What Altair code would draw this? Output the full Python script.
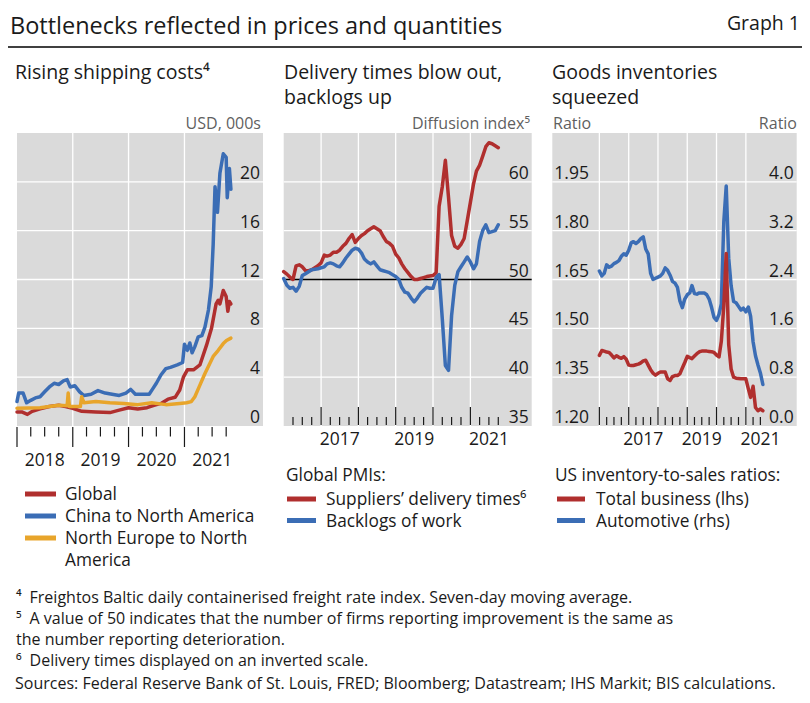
import altair as alt
import pandas as pd

FONT = "Open Sans"
RED = "#b02f2e"
BLUE = "#3b6db5"
ORANGE = "#e8a52b"
BG = "#dadada"
INK = "#1a1a1a"
MUTED = "#5f5f5f"
OFF = 8  # page margin: screen px -> chart px

# ---------------- Panel 1: Rising shipping costs (USD, 000s) ----------------
china_dates = ["2018-01-01", "2018-01-12", "2018-02-10", "2018-03-05", "2018-04-01", "2018-05-01",
               "2018-06-01", "2018-07-01", "2018-08-01", "2018-09-01", "2018-10-01", "2018-11-01",
               "2018-11-25", "2018-12-15", "2019-01-15", "2019-02-15", "2019-03-15", "2019-05-01",
               "2019-06-15", "2019-08-01", "2019-09-15", "2019-11-01", "2019-12-15", "2020-01-15",
               "2020-02-15", "2020-04-01", "2020-05-15", "2020-06-05", "2020-07-01", "2020-08-01",
               "2020-09-01", "2020-10-01", "2020-11-15", "2020-12-20", "2021-01-01", "2021-01-20",
               "2021-02-05", "2021-02-20", "2021-03-10", "2021-04-01", "2021-04-25", "2021-05-15",
               "2021-06-07", "2021-06-25", "2021-07-08", "2021-07-20", "2021-08-05", "2021-08-21",
               "2021-09-12", "2021-10-01", "2021-10-08", "2021-10-22", "2021-11-01"]
china_vals = [2.0, 2.7, 2.7, 1.9, 2.1, 2.3, 2.4, 2.8, 3.2, 3.5, 3.4, 3.7,
              3.8, 3.2, 3.3, 2.8, 2.5, 2.6, 2.9, 2.7, 2.6, 2.5, 2.7, 3.0,
              2.6, 2.6, 2.6, 3.0, 3.5, 4.2, 4.7, 4.8, 5.0, 5.2, 6.7, 6.2,
              6.8, 6.0, 6.5, 7.3, 7.4, 8.1, 9.5, 11.4, 14.9, 19.6, 17.5, 20.7,
              22.3, 22.0, 18.7, 21.1, 19.4]

global_dates = ["2018-01-01", "2018-02-01", "2018-03-10", "2018-04-10", "2018-06-01", "2018-08-01",
                "2018-10-01", "2018-11-15", "2019-01-01", "2019-03-01", "2019-06-01", "2019-09-01",
                "2019-11-01", "2020-01-01", "2020-03-01", "2020-05-01", "2020-06-15", "2020-08-01",
                "2020-09-15", "2020-11-01", "2020-12-01", "2020-12-25", "2021-01-20", "2021-03-01",
                "2021-04-12", "2021-05-25", "2021-06-27", "2021-07-27", "2021-08-10", "2021-08-21",
                "2021-09-12", "2021-10-01", "2021-10-12", "2021-10-22", "2021-11-01"]
global_vals = [1.15, 1.15, 0.95, 1.2, 1.4, 1.6, 1.7, 1.6, 1.45, 1.2, 1.15, 1.1,
               1.3, 1.5, 1.4, 1.5, 1.7, 1.85, 2.2, 2.35, 2.95, 4.0, 4.6, 4.6,
               5.0, 6.6, 8.0, 10.0, 10.3, 10.0, 11.1, 10.6, 9.4, 10.2, 10.0]

neur_dates = ["2018-01-01", "2018-06-01", "2018-10-01", "2018-11-25", "2018-12-02", "2018-12-10",
              "2019-02-20", "2019-02-28", "2019-03-15", "2019-06-01", "2019-09-01", "2019-12-01",
              "2020-03-01", "2020-06-01", "2020-09-01", "2020-12-01", "2021-01-15", "2021-02-15",
              "2021-03-10", "2021-04-12", "2021-05-15", "2021-06-15", "2021-07-08", "2021-08-10",
              "2021-09-12", "2021-10-03", "2021-11-01"]
neur_vals = [1.45, 1.5, 1.7, 1.65, 2.7, 1.6, 1.6, 2.4, 1.9, 2.0, 1.9, 1.85,
             1.75, 1.9, 1.75, 1.85, 1.9, 2.0, 2.4, 3.35, 4.3, 5.1, 5.7, 6.2,
             6.75, 7.0, 7.2]

# ---------------- Panel 2: Global PMIs (monthly, Jan 2016 - Oct 2021) ----------------
pmi_start, pmi_n = "2016-01-01", 70
pmi_delivery = [50.8, 50.55, 50.25, 50.0, 51.4, 51.5, 51.3, 50.9, 50.9, 51.0, 51.2, 51.4,
                51.7, 52.5, 52.4, 52.5, 52.8, 52.8, 53.0, 53.4, 53.7, 54.2, 54.6, 53.8,
                54.2, 54.5, 54.7, 55.0, 55.2, 55.4, 55.2, 55.0, 54.4, 53.9, 53.7, 53.4,
                52.6, 52.2, 51.6, 51.1, 50.7, 50.3, 50.0, 50.0, 50.1, 50.2, 50.3, 50.35,
                50.4, 50.7, 57.5, 59.5, 62.2, 58.4, 54.5, 53.4, 53.2, 53.6, 54.2, 56.0,
                57.9, 59.8, 61.1, 61.7, 62.6, 63.6, 64.0, 63.9, 63.7, 63.5]
pmi_backlog = [50.1, 49.4, 49.1, 49.2, 48.8, 49.3, 50.4, 50.6, 50.8, 51.0, 51.05, 51.1,
               51.2, 51.3, 51.6, 51.7, 51.6, 51.4, 51.3, 51.7, 52.2, 52.6, 53.0, 53.2,
               53.1, 52.7, 52.1, 51.8, 51.6, 51.8, 51.4, 51.0, 50.9, 50.8, 50.7, 50.5,
               50.3, 50.0, 49.2, 48.7, 48.6, 48.1, 47.7, 48.1, 48.6, 48.9, 49.2, 49.1,
               49.1, 50.2, 50.5, 46.0, 41.2, 40.7, 46.3, 49.4, 50.8, 51.3, 51.8, 52.3,
               51.8, 51.1, 51.6, 53.9, 55.0, 55.6, 54.8, 54.9, 55.0, 55.6]

# ---------------- Panel 3: US inventory-to-sales ratios (monthly, Jan 2016 - Aug 2021) -------
inv_start, inv_n = "2016-01-01", 68
inv_total = [1.417, 1.432, 1.430, 1.427, 1.426, 1.418, 1.409, 1.416, 1.411, 1.408, 1.413, 1.405,
             1.387, 1.386, 1.386, 1.388, 1.390, 1.394, 1.400, 1.402, 1.387, 1.373, 1.362, 1.356,
             1.362, 1.366, 1.366, 1.366, 1.345, 1.340, 1.352, 1.355, 1.355, 1.360, 1.378, 1.395,
             1.414, 1.410, 1.407, 1.415, 1.422, 1.428, 1.430, 1.430, 1.430, 1.429, 1.428, 1.426,
             1.418, 1.412, 1.460, 1.570, 1.730, 1.450, 1.375, 1.350, 1.347, 1.346, 1.345, 1.345,
             1.345, 1.314, 1.288, 1.322, 1.257, 1.247, 1.252, 1.247]
inv_auto = [2.54, 2.46, 2.50, 2.64, 2.60, 2.62, 2.66, 2.68, 2.71, 2.78, 2.82, 2.80,
            2.88, 3.00, 3.02, 2.99, 3.02, 3.07, 3.10, 2.90, 2.82, 2.50, 2.40, 2.42,
            2.44, 2.46, 2.50, 2.59, 2.55, 2.47, 2.37, 2.34, 2.27, 2.05, 1.94, 2.08,
            2.15, 2.18, 2.30, 2.17, 2.16, 2.18, 2.18, 2.18, 2.15, 2.08, 1.94, 1.78,
            1.73, 1.83, 2.00, 3.35, 3.93, 2.75, 2.30, 2.04, 2.02, 1.96, 1.90, 1.93,
            1.87, 1.95, 1.80, 1.38, 1.15, 1.00, 0.87, 0.68]

# ---------------- axis values / tick labels ----------------
p1_yvals = [0, 4, 8, 12, 16, 20]
p1_ylabels = ["0", "4", "8", "12", "16", "20"]
p1_years = ["2018", "2019", "2020", "2021"]
p2_yvals = [35, 40, 45, 50, 55, 60]
p2_ylabels = ["35", "40", "45", "50", "55", "60"]
p2_years = ["2017", "2019", "2021"]
p3_lvals = [1.20, 1.35, 1.50, 1.65, 1.80, 1.95]
p3_llabels = ["1.20", "1.35", "1.50", "1.65", "1.80", "1.95"]
p3_rvals = [0.0, 0.8, 1.6, 2.4, 3.2, 4.0]
p3_rlabels = ["0.0", "0.8", "1.6", "2.4", "3.2", "4.0"]
p3_years = ["2017", "2019", "2021"]

# ---------------- texts ----------------
title_text = "Bottlenecks reflected in prices and quantities"
graph_no = "Graph 1"
sub1 = ["Rising shipping costs\u2074"]
sub2 = ["Delivery times blow out,", "backlogs up"]
sub3 = ["Goods inventories", "squeezed"]
leg1 = ["Global", "China to North America", "North Europe to North", "America"]
leg2_head = "Global PMIs:"
leg2 = ["Suppliers\u2019 delivery times\u2076", "Backlogs of work"]
leg3_head = "US inventory-to-sales ratios:"
leg3 = ["Total business (lhs)", "Automotive (rhs)"]
notes = ["\u2074\u2002Freightos Baltic daily containerised freight rate index. Seven-day moving average.",
         "\u2075\u2002A value of 50 indicates that the number of firms reporting improvement is the same as",
         "the number reporting deterioration.",
         "\u2076\u2002Delivery times displayed on an inverted scale."]
sources = "Sources: Federal Reserve Bank of St. Louis, FRED; Bloomberg; Datastream; IHS Markit; BIS calculations."

# ---------------- layout (screen pixels) ----------------
P1 = dict(dom=("2018-01-01", "2022-05-30"), rng=(17, 263))
P2 = dict(dom=("2016-01-01", "2022-08-24"), rng=(283.7, 531.7))
P3 = dict(dom=("2014-05-24", "2022-09-27"), rng=(552.3, 796.7))
Y_TOP, Y_BOT = 133, 426
AX = 17.5  # axis label size
LG = 17.3  # legend size


def px(v):
    return v - OFF


def dt(s):
    y, m, d = (int(p) for p in s.split("-"))
    return alt.DateTime(year=y, month=m, date=d)


def xenc(p, field="date"):
    return alt.X(f"{field}:T", axis=None,
                 scale=alt.Scale(domain=[dt(p["dom"][0]), dt(p["dom"][1])],
                                 range=[px(p["rng"][0]), px(p["rng"][1])], nice=False))


def yenc(lo, hi, field="v"):
    return alt.Y(f"{field}:Q", axis=None,
                 scale=alt.Scale(domain=[lo, hi], range=[px(Y_BOT), px(Y_TOP)], nice=False, zero=False))


def quarters(first, last):
    out = []
    for y in range(1990, 2030):
        for m in (1, 4, 7, 10):
            s = f"{y}-{m:02d}-01"
            if first <= s <= last:
                out.append(s)
    return out


def panel(p, lo, hi, hgrid, vgrid_years):
    layers = []
    layers.append(alt.Chart(pd.DataFrame({"date": [p["dom"][0]], "d2": [p["dom"][1]],
                                          "v": [lo], "v2": [hi]}))
                  .mark_rect(color=BG)
                  .encode(x=xenc(p), x2="d2:T", y=yenc(lo, hi), y2="v2:Q"))
    layers.append(alt.Chart(pd.DataFrame({"date": [p["dom"][0]] * len(hgrid), "d2": [p["dom"][1]] * len(hgrid),
                                          "v": hgrid}))
                  .mark_rule(color="white", strokeWidth=1.3)
                  .encode(x=xenc(p), x2="d2:T", y=yenc(lo, hi)))
    layers.append(alt.Chart(pd.DataFrame({"date": [f"{y}-01-01" for y in vgrid_years],
                                          "v": [lo] * len(vgrid_years), "v2": [hi] * len(vgrid_years)}))
                  .mark_rule(color="white", strokeWidth=1.3)
                  .encode(x=xenc(p), y=yenc(lo, hi), y2="v2:Q"))
    return layers


def line(p, lo, hi, dates, vals, color):
    return (alt.Chart(pd.DataFrame({"date": dates, "v": vals}))
            .mark_line(color=color, strokeWidth=3.5, strokeJoin="round", strokeCap="round")
            .encode(x=xenc(p), y=yenc(lo, hi)))


def ylabels(p, lo, hi, vals, labels, side):
    edge = p["dom"][1] if side == "right" else p["dom"][0]
    return (alt.Chart(pd.DataFrame({"date": [edge] * len(vals), "v": vals, "t": labels}))
            .mark_text(align=side, baseline="alphabetic", dx=-3 if side == "right" else 2, dy=-3,
                       font=FONT, fontSize=AX, color=INK)
            .encode(x=xenc(p), y=yenc(lo, hi), text="t:N"))


def ticks(p, first, last, up):
    qs = quarters(first, last)
    df = pd.DataFrame({"date": qs, "major": [q.endswith("-01-01") for q in qs]})
    out = []
    for major in (False, True):
        sub = df[df["major"] == major]
        if up:
            y1, y2 = (425, 407) if major else (425, 417)
        else:
            y1, y2 = (427, 447) if major else (427, 436.5)
        out.append(alt.Chart(sub).mark_rule(color=INK, strokeWidth=1.2)
                   .encode(x=xenc(p), y=alt.value(px(y1)), y2=alt.value(px(y2))))
    return out


def year_labels(p, years, base):
    return (alt.Chart(pd.DataFrame({"date": [f"{y}-07-02" for y in years], "t": years}))
            .mark_text(align="center", baseline="alphabetic", font=FONT, fontSize=AX, color=INK)
            .encode(x=xenc(p), y=alt.value(px(base)), text="t:N"))


def text(t, x, y, size, align="left", color=INK):
    return (alt.Chart(pd.DataFrame({"t": [t]}))
            .mark_text(align=align, baseline="alphabetic", font=FONT, fontSize=size, color=color)
            .encode(x=alt.value(px(x)), y=alt.value(px(y)), text="t:N"))


def block(lines, x, first_base, size, lh, color=INK):
    # multi-line text; 'top' baseline puts the first line's baseline at y + round(0.79*size)
    top = first_base - round(0.79 * size)
    return (alt.Chart(pd.DataFrame({"a": [0]}))
            .mark_text(text=lines, align="left", baseline="top", lineHeight=lh,
                       font=FONT, fontSize=size, color=color)
            .encode(x=alt.value(px(x)), y=alt.value(px(top))))


def swatch(x1, x2, y, color):
    return (alt.Chart(pd.DataFrame({"a": [0]}))
            .mark_rule(color=color, strokeWidth=5)
            .encode(x=alt.value(px(x1)), x2=alt.value(px(x2)), y=alt.value(px(y))))


layers = []

# Panel 1
layers += panel(P1, 0, 24, [4, 8, 12, 16, 20], [2019, 2020, 2021])
layers.append(line(P1, 0, 24, global_dates, global_vals, RED))
layers.append(line(P1, 0, 24, china_dates, china_vals, BLUE))
layers.append(line(P1, 0, 24, neur_dates, neur_vals, ORANGE))
layers.append(ylabels(P1, 0, 24, p1_yvals, p1_ylabels, "right"))
layers += ticks(P1, "2018-01-01", "2021-10-01", up=False)
layers.append(year_labels(P1, p1_years, 466))

# Panel 2
pmi_dates = [d.strftime("%Y-%m-%d") for d in pd.date_range(pmi_start, periods=pmi_n, freq="MS")]
layers += panel(P2, 35, 65, [40, 45, 55, 60], [2017, 2018, 2019, 2020, 2021])
layers.append(alt.Chart(pd.DataFrame({"date": [P2["dom"][0]], "d2": [P2["dom"][1]], "v": [50]}))
              .mark_rule(color="black", strokeWidth=1.3)
              .encode(x=xenc(P2), x2="d2:T", y=yenc(35, 65)))
layers.append(line(P2, 35, 65, pmi_dates, pmi_delivery, RED))
layers.append(line(P2, 35, 65, pmi_dates, pmi_backlog, BLUE))
layers.append(ylabels(P2, 35, 65, p2_yvals, p2_ylabels, "right"))
layers += ticks(P2, "2016-04-01", "2021-10-01", up=True)
layers.append(year_labels(P2, p2_years, 445))

# Panel 3
inv_dates = [d.strftime("%Y-%m-%d") for d in pd.date_range(inv_start, periods=inv_n, freq="MS")]
layers += panel(P3, 1.20, 2.10, [1.35, 1.50, 1.65, 1.80, 1.95], [2016, 2017, 2018, 2019, 2020, 2021])
layers.append(line(P3, 0.0, 4.8, inv_dates, inv_auto, BLUE))
layers.append(line(P3, 1.20, 2.10, inv_dates, inv_total, RED))
layers.append(ylabels(P3, 1.20, 2.10, p3_lvals, p3_llabels, "left"))
layers.append(ylabels(P3, 0.0, 4.8, p3_rvals, p3_rlabels, "right"))
layers += ticks(P3, "2016-01-01", "2021-07-01", up=True)
layers.append(year_labels(P3, p3_years, 445))

# Titles
layers.append(text(title_text, 10, 33.5, 23.5))
layers.append(text(graph_no, 800, 29.5, 19.5, align="right"))
layers.append(alt.Chart(pd.DataFrame({"a": [0]})).mark_rule(color="black", strokeWidth=1.5)
              .encode(x=alt.value(0), x2=alt.value(px(810)), y=alt.value(px(47))))
layers.append(block(sub1, 15, 79, 19.5, 25))
layers.append(block(sub2, 284, 79, 19.5, 25))
layers.append(block(sub3, 552, 79, 19.5, 25))
layers.append(text("USD, 000s", 261, 128.5, 16, align="right", color=MUTED))
layers.append(text("Diffusion index\u2075", 530, 128.5, 16, align="right", color=MUTED))
layers.append(text("Ratio", 553, 128.5, 16, color=MUTED))
layers.append(text("Ratio", 797, 128.5, 16, align="right", color=MUTED))

# Legends
layers += [swatch(25, 56, 494, RED), swatch(25, 56, 516, BLUE), swatch(25, 56, 538, ORANGE),
           block(leg1, 65, 500, LG, 22)]
layers += [text(leg2_head, 286, 481, LG),
           swatch(287, 316, 499, RED), swatch(287, 316, 520.5, BLUE),
           block(leg2, 326, 505, LG, 21.5)]
layers += [text(leg3_head, 555, 481, LG),
           swatch(557, 585, 499, RED), swatch(557, 585, 520.5, BLUE),
           block(leg3, 596, 505, LG, 21.5)]

# Footnotes
layers.append(block(notes, 16, 602.5, 16, 21))
layers.append(text(sources, 15, 689, 16))

chart = (alt.layer(*layers)
         .resolve_scale(x="independent", y="independent")
         .properties(width=794, height=687, autosize=alt.AutoSizeParams(type="none"), padding=0)
         .configure_view(stroke="transparent"))

chart.save("out.html", embed_options={"renderer": "svg", "actions": False})
